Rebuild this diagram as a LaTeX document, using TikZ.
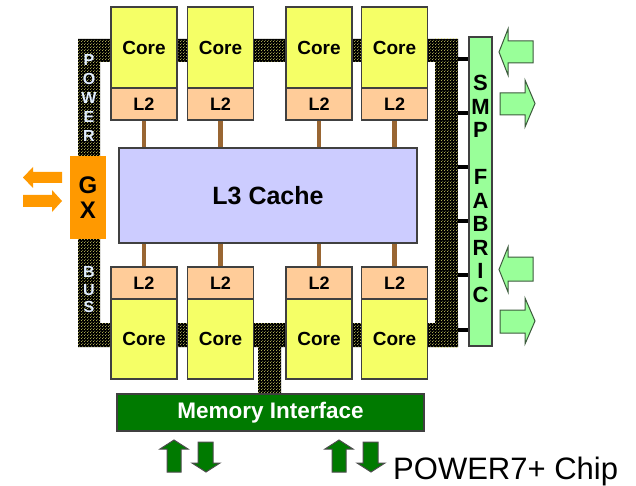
\documentclass[tikz,border=0pt]{standalone}
\usepackage{fontspec}
\setmainfont{Liberation Sans}
\usetikzlibrary{patterns}
\pgfdeclarepatternformonly{busdots}{\pgfqpoint{0pt}{0pt}}{\pgfqpoint{3pt}{3pt}}{\pgfqpoint{3pt}{3pt}}{%
  \pgfpathcircle{\pgfqpoint{0.75pt}{0.75pt}}{0.55pt}%
  \pgfpathcircle{\pgfqpoint{2.25pt}{2.25pt}}{0.55pt}%
  \pgfusepath{fill}}
\definecolor{coreY}{RGB}{245,255,102}
\definecolor{ltwo}{RGB}{255,204,153}
\definecolor{lthree}{RGB}{204,204,255}
\definecolor{memG}{RGB}{0,122,0}
\definecolor{gxO}{RGB}{255,153,0}
\definecolor{smpG}{RGB}{153,255,153}
\definecolor{brownL}{RGB}{153,102,51}
\definecolor{dotY}{RGB}{230,230,110}
\definecolor{edgeC}{RGB}{64,64,64}
\definecolor{busTxt}{RGB}{225,238,255}
\definecolor{arrEdge}{RGB}{60,90,60}
\tikzset{
  busfill/.style={fill=black, postaction={pattern=busdots, pattern color=dotY}},
  blk/.style={draw=edgeC, line width=1.2pt, inner sep=0pt, font=\bfseries},
  corebox/.style={blk, fill=coreY, minimum width=66pt, minimum height=81pt, font=\fontsize{19}{22}\selectfont\bfseries},
  ltwobox/.style={blk, fill=ltwo, minimum width=66pt, minimum height=32pt, font=\fontsize{18}{20}\selectfont\bfseries},
  brownline/.style={draw=brownL, line width=4.5pt},
  smplink/.style={draw=black, line width=4pt},
  grarrow/.style={fill=smpG, draw=arrEdge, line width=1pt},
  orarrow/.style={fill=gxO},
  mmarrow/.style={fill=memG, draw=black!70, line width=1pt},
}
\begin{document}
\begin{tikzpicture}[x=1pt,y=-1pt]
\useasboundingbox (0,0) rectangle (636,486);
% bus
\path[busfill] (78,39) rectangle (458,62)
  (78,39) rectangle (100,156)
  (78,239) rectangle (100,347)
  (78,323) rectangle (458,347)
  (258,323) rectangle (281,394);
\node[busfill, minimum width=23pt, minimum height=308pt, inner sep=0pt] (rbus) at (446.5,193) {};
% bus labels
\node[text=busTxt, font=\fontsize{16}{19}\selectfont\bfseries, align=center, inner sep=0pt] (pwr) at (89,97.5) {P\\O\\W\\E\\R};
\node[text=busTxt, font=\fontsize{16}{17.5}\selectfont\bfseries, align=center, inner sep=0pt] (bus) at (89,290) {B\\U\\S};
% top cores
\node[corebox] (c1) at (144,47.5) {Core};
\node[corebox] (c2) at (220.5,47.5) {Core};
\node[corebox] (c3) at (319,47.5) {Core};
\node[corebox] (c4) at (394.5,47.5) {Core};
\node[ltwobox] (t1) at (144,104) {L2};
\node[ltwobox] (t2) at (220.5,104) {L2};
\node[ltwobox] (t3) at (319,104) {L2};
\node[ltwobox] (t4) at (394.5,104) {L2};
% bottom cores
\node[ltwobox] (b1) at (144,283) {L2};
\node[ltwobox] (b2) at (220.5,283) {L2};
\node[ltwobox] (b3) at (319,283) {L2};
\node[ltwobox] (b4) at (394.5,283) {L2};
\node[corebox, minimum height=80pt] (d1) at (144,339) {Core};
\node[corebox, minimum height=80pt] (d2) at (220.5,339) {Core};
\node[corebox, minimum height=80pt] (d3) at (319,339) {Core};
\node[corebox, minimum height=80pt] (d4) at (394.5,339) {Core};
% L3
\node[blk, fill=lthree, line width=2pt, minimum width=298pt, minimum height=95pt, font=\fontsize{25}{28}\selectfont\bfseries] (l3) at (268,195.5) {L3 Cache};
\foreach \n in {t1,t2,t3,t4} \draw[brownline] (\n.south) -- (\n.south |- l3.north);
\foreach \n in {b1,b2,b3,b4} \draw[brownline] (\n.north) -- (\n.north |- l3.south);
% GX
\node[fill=gxO, minimum width=36pt, minimum height=83pt, inner sep=0pt, align=center, font=\fontsize{24}{25}\selectfont\bfseries] (gx) at (88,197.5) {G\\X};
% SMP fabric
\node[blk, fill=smpG, minimum width=23pt, minimum height=309pt] (smp) at (480.5,191.5) {};
\node[inner sep=0pt, align=center, font=\fontsize{22}{23.5}\selectfont\bfseries] (smptxt) at (480.5,189) {S\\M\\P\\\strut\\F\\A\\B\\R\\I\\C};
\foreach \yy in {59,113,167,221,275,330} \draw[smplink] (rbus.east |- 0,\yy) -- (smp.west |- 0,\yy);
% memory interface
\node[blk, fill=memG, text=white, minimum width=307pt, minimum height=37pt, font=\fontsize{22.5}{25}\selectfont\bfseries] (mem) at (270.5,412.5) {Memory Interface};
% SMP arrows
\path[grarrow] (499,52) -- (508,29) -- (508,41) -- (533,41) -- (533,63) -- (508,63) -- (508,75) -- cycle;
\path[grarrow] (535,103.5) -- (525,80) -- (525,93) -- (500,93) -- (500,115) -- (525,115) -- (525,127) -- cycle;
\path[grarrow] (499,269.5) -- (508,247) -- (508,257) -- (533,257) -- (533,281) -- (508,281) -- (508,292) -- cycle;
\path[grarrow] (535,321) -- (525,298) -- (525,310) -- (500,310) -- (500,333) -- (525,333) -- (525,344) -- cycle;
% GX arrows
\path[orarrow] (23,177.5) -- (33,167) -- (33,172) -- (62,172) -- (62,183) -- (33,183) -- (33,188) -- cycle;
\path[orarrow] (62,201) -- (52,190) -- (52,195) -- (23,195) -- (23,207) -- (52,207) -- (52,212) -- cycle;
% memory arrows
\foreach \dx in {0,165} {
  \path[mmarrow, xshift=\dx] (174,440) -- (188,449) -- (181,449) -- (181,472) -- (167,472) -- (167,449) -- (160,449) -- cycle;
  \path[mmarrow, xshift=\dx] (206,472) -- (220,463) -- (213,463) -- (213,442) -- (198,442) -- (198,463) -- (192,463) -- cycle;
}
% title
\node[anchor=base west, inner sep=0pt, font=\fontsize{31}{36}\selectfont] (title) at (393,479) {POWER7+ Chip};
\end{tikzpicture}
\end{document}
